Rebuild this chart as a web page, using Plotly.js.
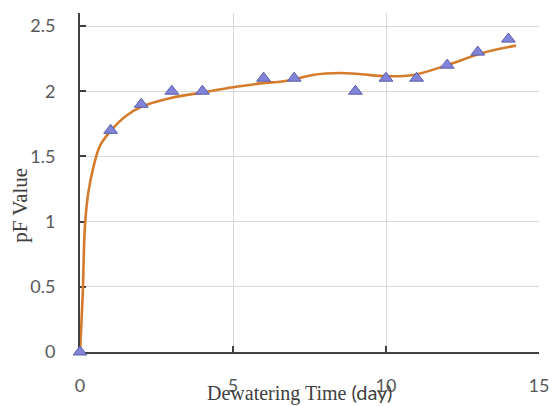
<!DOCTYPE html>
<html>
<head>
<meta charset="utf-8">
<script src="https://cdn.plot.ly/plotly-3.0.1.min.js"></script>
<style>html,body{margin:0;padding:0;background:#fff}#chart{width:552px;height:406px}</style>
</head>
<body>
<div id="chart"></div>
<script>
// Measured data (triangles)
const dayValues = [0, 1, 2, 3, 4, 6, 7, 9, 10, 11, 12, 13, 14];
const pfValues  = [0, 1.7, 1.9, 2.0, 2.0, 2.1, 2.1, 2.0, 2.1, 2.1, 2.2, 2.3, 2.4];
// Fitted curve (orange)
const curveDays = [0, 0.09, 0.16, 0.27, 0.44, 0.65, 0.98, 1.5, 2.0, 3.0, 4.0, 5.0, 5.9, 6.6, 7.0, 7.6, 8.5, 9.2, 10.0, 10.9, 12.0, 13.1, 14.25];
const curvePf   = [0, 0.45, 0.96, 1.22, 1.42, 1.58, 1.69, 1.81, 1.88, 1.95, 1.99, 2.03, 2.06, 2.075, 2.09, 2.125, 2.14, 2.13, 2.115, 2.125, 2.2, 2.29, 2.35];
const xTicks = [0, 5, 10, 15];
const yTicks = [0, 0.5, 1, 1.5, 2, 2.5];
const yTickText = ['0', '0.5', '1', '1.5', '2', '2.5'];
const xTitle = 'Dewatering Time <span style="font-family:Lato">(day)</span>';
const yTitle = 'pF Value';

const traces = [
  {
    x: curveDays, y: curvePf, type: 'scatter', mode: 'lines',
    line: {color: '#d57b2c', width: 2.6, shape: 'spline', smoothing: 1},
    hoverinfo: 'skip', showlegend: false
  },
  {
    x: dayValues, y: pfValues, type: 'scatter', mode: 'markers', cliponaxis: false,
    marker: {symbol: 'triangle-up', size: 12, color: '#8184d8', line: {color: '#5a5da8', width: 1}},
    showlegend: false
  }
];

const tickFont = {family: 'Lato, "Open Sans", sans-serif', size: 18, color: '#595959'};
const serif = '"Liberation Serif", "Times New Roman", serif';
const layout = {
  width: 552, height: 406,
  margin: {l: 80, r: 13, t: 13, b: 54},
  paper_bgcolor: '#ffffff', plot_bgcolor: '#ffffff',
  showlegend: false,
  xaxis: {
    range: [0, 15], tickvals: xTicks, ticktext: xTicks.map(String),
    showgrid: true, gridcolor: '#d9d9d9', gridwidth: 1,
    zeroline: false, showline: true, linecolor: '#404040', linewidth: 2,
    ticks: 'inside', ticklen: 6, tickcolor: '#404040', tickwidth: 2,
    tickfont: tickFont, ticklabelstandoff: 16, layer: 'below traces'
  },
  yaxis: {
    range: [0, 2.6], tickvals: yTicks, ticktext: yTickText,
    showgrid: true, gridcolor: '#d9d9d9', gridwidth: 1,
    zeroline: false, showline: true, linecolor: '#404040', linewidth: 2,
    ticks: 'inside', ticklen: 6, tickcolor: '#404040', tickwidth: 2,
    tickfont: tickFont, ticklabelstandoff: 19, layer: 'below traces'
  },
  annotations: [
    {
      text: xTitle, xref: 'paper', yref: 'paper', x: 0.479, y: -0.118,
      xanchor: 'center', yanchor: 'middle', showarrow: false,
      font: {family: serif, size: 20, color: '#404040'}
    },
    {
      text: yTitle, xref: 'paper', yref: 'paper', x: -0.131, y: 0.434,
      xanchor: 'center', yanchor: 'middle', textangle: -90, showarrow: false,
      font: {family: serif, size: 21, color: '#404040'}
    }
  ]
};

Plotly.newPlot('chart', traces, layout, {displayModeBar: false, staticPlot: true});
</script>
</body>
</html>
